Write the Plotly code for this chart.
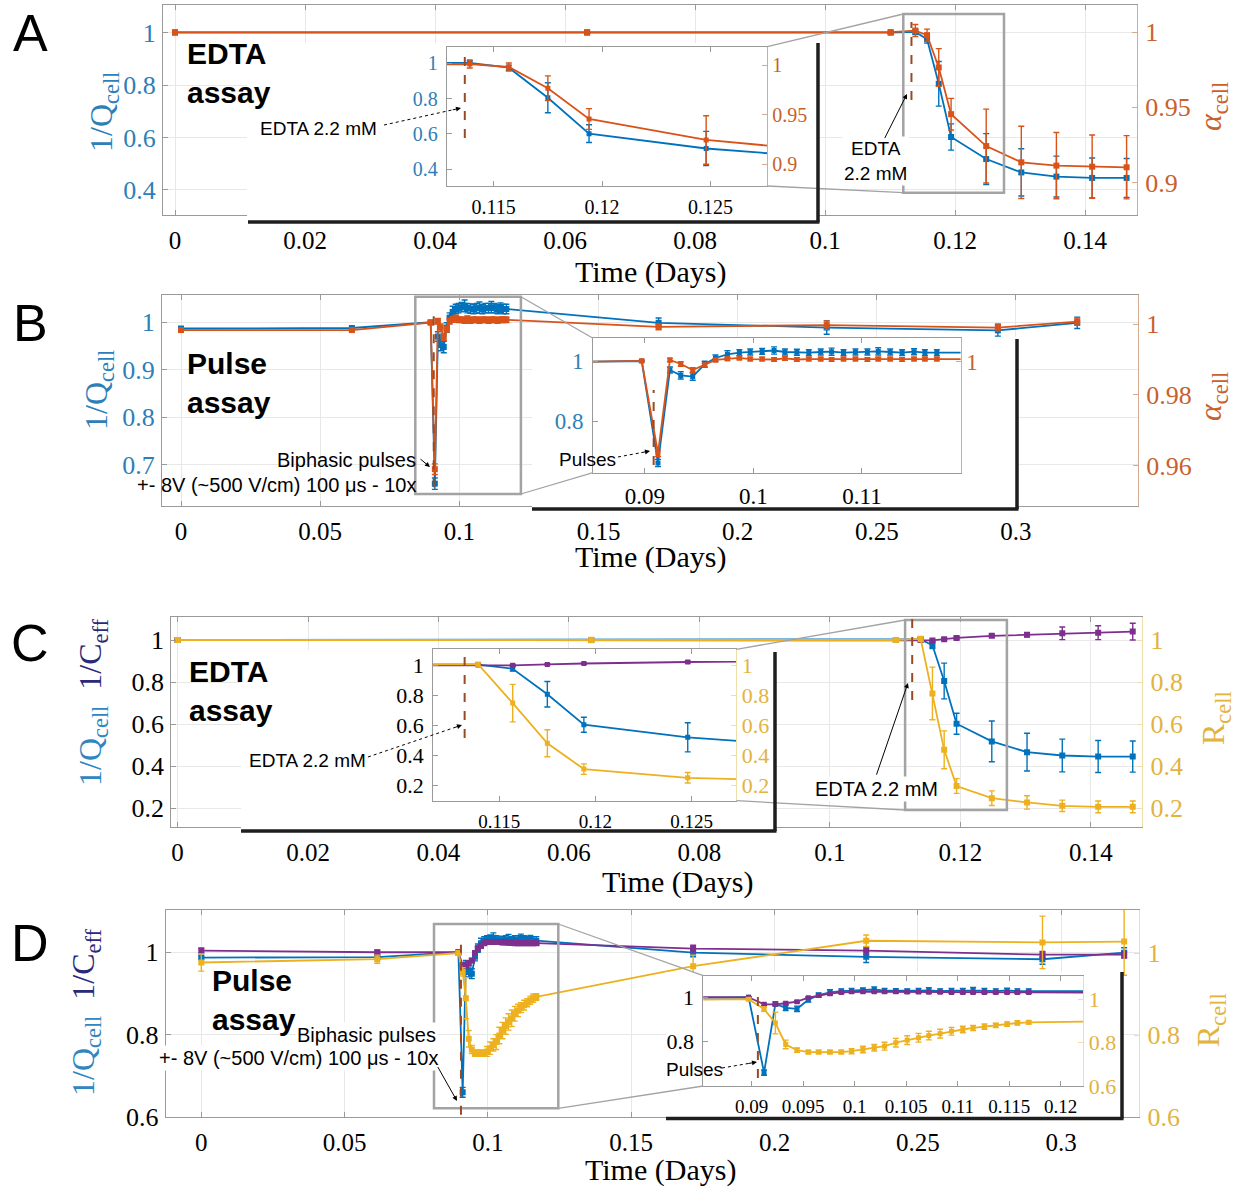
import plotly.graph_objects as go

W, H = 1255, 1187          # reference pixel space used for every position below
FIG_W, FIG_H = 1255, 1202  # page size (the photo is squeezed back to 1187 high)
SERIF = "Liberation Serif"
SANS = "Liberation Sans"

# ---------------- data ----------------
# EDTA assay (panels A and C)
T_EDTA = [0, 0.0634, 0.1101, 0.1139, 0.1157, 0.1175, 0.1194, 0.1248, 0.1302, 0.1356, 0.1411, 0.1464]
Q_EDTA = [1.0, 1.0, 1.0, 1.003, 0.975, 0.805, 0.602, 0.518, 0.467, 0.451, 0.446, 0.446]
Q_EDTA_ERR = [0.003, 0.003, 0.003, 0.01, 0.015, 0.085, 0.05, 0.097, 0.09, 0.078, 0.076, 0.074]
ALPHA_EDTA = [1.0, 1.0, 1.0, 1.001, 0.998, 0.9765, 0.9455, 0.9243, 0.9135, 0.9113, 0.9106, 0.9102]
ALPHA_EDTA_ERR = [0.0004, 0.0004, 0.0004, 0.004, 0.004, 0.0125, 0.0105, 0.0245, 0.024, 0.022, 0.021, 0.021]
C_EDTA = [1.0, 1.0, 1.0, 1.0, 0.998, 1.004, 1.01, 1.02, 1.025, 1.032, 1.035, 1.04]
C_EDTA_ERR = [0.003, 0.003, 0.003, 0.003, 0.005, 0.005, 0.006, 0.007, 0.01, 0.03, 0.033, 0.04]
R_EDTA = [1.0, 1.0, 1.0, 1.005, 0.746, 0.478, 0.306, 0.248, 0.228, 0.212, 0.207, 0.207]
R_EDTA_ERR = [0.01, 0.012, 0.006, 0.012, 0.125, 0.09, 0.035, 0.035, 0.032, 0.027, 0.028, 0.028]

# Pulse assay (panels B and D)
T_PULSE = [0, 0.0614,
           0.0897, 0.0912, 0.0923, 0.0933, 0.0944, 0.0955, 0.0965, 0.0976, 0.0987, 0.0997,
           0.1008, 0.1019, 0.1029, 0.1040, 0.1051, 0.1062, 0.1072, 0.1083, 0.1094, 0.1105,
           0.1115, 0.1126, 0.1137, 0.1148, 0.1158, 0.1169,
           0.1716, 0.2320, 0.2935, 0.3220]
Q_PULSE = [0.987, 0.988,
           1.0, 0.66, 0.97, 0.952, 0.948, 0.989, 1.01, 1.022, 1.028, 1.03,
           1.032, 1.035, 1.03, 1.029, 1.028, 1.03, 1.031, 1.028, 1.03, 1.03,
           1.032, 1.03, 1.028, 1.031, 1.028, 1.028,
           0.999, 0.989, 0.983, 0.999]
Q_PULSE_ERR = [0.004, 0.004,
               0.003, 0.012, 0.01, 0.012, 0.012, 0.01, 0.01, 0.012, 0.01, 0.01,
               0.01, 0.012, 0.01, 0.01, 0.01, 0.01, 0.012, 0.01, 0.01, 0.01,
               0.012, 0.01, 0.01, 0.01, 0.01, 0.01,
               0.01, 0.014, 0.012, 0.012]
ALPHA_PULSE = [0.9983, 0.9983,
               1.0004, 0.959, 1.0008, 0.999, 0.9963, 0.9985, 1.0008, 1.0013, 1.0017, 1.0012,
               1.0012, 1.001, 1.0015, 1.001, 1.0012, 1.0012, 1.001, 1.0012, 1.0012, 1.001,
               1.0012, 1.0012, 1.001, 1.0012, 1.0012, 1.0012,
               0.9992, 0.9997, 0.999, 1.0007]
ALPHA_PULSE_ERR = [0.0003, 0.0003,
                   0.0003, 0.0015, 0.0008, 0.001, 0.001, 0.0008, 0.0008, 0.0008, 0.0008, 0.0008,
                   0.0008, 0.0008, 0.0008, 0.0008, 0.0008, 0.0008, 0.0008, 0.0008, 0.0008, 0.0008,
                   0.0008, 0.0008, 0.0008, 0.0008, 0.0008, 0.0008,
                   0.0008, 0.0012, 0.001, 0.001]
C_PULSE = [1.004, 1.0,
           1.0, 0.968, 0.968, 0.973, 0.98, 0.998, 1.008, 1.016, 1.022, 1.025,
           1.025, 1.025, 1.025, 1.025, 1.024, 1.024, 1.023, 1.023, 1.022, 1.022,
           1.022, 1.022, 1.022, 1.022, 1.022, 1.022,
           1.009, 1.004, 0.994, 0.994]
C_PULSE_ERR = [0.006, 0.005,
               0.003, 0.005, 0.005, 0.005, 0.005, 0.005, 0.005, 0.005, 0.005, 0.005,
               0.005, 0.005, 0.005, 0.005, 0.005, 0.005, 0.005, 0.005, 0.005, 0.005,
               0.005, 0.005, 0.005, 0.005, 0.005, 0.005,
               0.008, 0.008, 0.008, 0.008]
R_PULSE = [0.977, 0.985,
           1.0, 0.954, 0.890, 0.791, 0.765, 0.756, 0.756, 0.756, 0.756, 0.760,
           0.768, 0.776, 0.783, 0.799, 0.811, 0.822, 0.832, 0.841, 0.852, 0.860,
           0.867, 0.873, 0.879, 0.885, 0.890, 0.893,
           0.968, 1.030, 1.026, 1.028]
R_PULSE_ERR = [0.021, 0.01,
               0.005, 0.01, 0.05, 0.02, 0.01, 0.008, 0.008, 0.008, 0.008, 0.012,
               0.015, 0.015, 0.018, 0.02, 0.02, 0.02, 0.02, 0.02, 0.018, 0.015,
               0.012, 0.012, 0.01, 0.01, 0.01, 0.008,
               0.027, 0.014, 0.064, 0.082]

# tick values
A_XTICKS = [0, 0.02, 0.04, 0.06, 0.08, 0.1, 0.12, 0.14]
A_YL_TICKS = [0.4, 0.6, 0.8, 1]
A_YR_TICKS = [0.9, 0.95, 1]
EDTA_IN_XTICKS = [0.115, 0.12, 0.125]
B_XTICKS = [0, 0.05, 0.1, 0.15, 0.2, 0.25, 0.3]
B_YL_TICKS = [0.7, 0.8, 0.9, 1]
B_YR_TICKS = [0.96, 0.98, 1]
B_IN_XTICKS = [0.09, 0.1, 0.11]
B_IN_YL_TICKS = [0.8, 1]
B_IN_YR_TICKS = [0.95, 1]
C_YTICKS = [0.2, 0.4, 0.6, 0.8, 1]
D_YTICKS = [0.6, 0.8, 1]
D_IN_XTICKS = [0.09, 0.095, 0.1, 0.105, 0.11, 0.115, 0.12]
D_IN_YL_TICKS = [0.8, 1]
D_IN_YR_TICKS = [0.6, 0.8, 1]

# ---------------- styles ----------------
BLUE = '#0072BD'
ORANGE = '#D95319'
YELLOW = '#EDB120'
PURPLE = '#7E2F8E'
BLUE_TXT = '#2e7fb8'
ORANGE_TXT = '#c8612c'
YELLOW_TXT = '#e2b33f'
GRID = '#e8e8e8'
AXIS = '#9a9a9a'
ORANGE_AX = '#d4aa90'
YELLOW_AX = '#eedfa8'
DASH = '#9a4a22'
RECT = '#a3a3a3'

# label offsets
SO_MX, SO_ML, SO_MR = 3, 1, 2      # main x, main left y, main right y
SO_IX, SO_IL, SO_IR = 3, 4, 0      # inset x, inset left y, inset right y


def px(x):
    return x / W


def py(y):
    return 1 - y / H


def dx(a, b):
    return [a / W, b / W]


def dy(top, bottom):
    return [1 - bottom / H, 1 - top / H]


def lab(v):
    return ['%g' % t for t in v]


def axis(domain, anchor, rng, ticks, size, color='black', linecolor=AXIS, grid=False,
         mirror=False, standoff=4, overlaying=None, side=None):
    d = dict(anchor=anchor, range=rng, tickmode='array', tickvals=ticks, ticktext=lab(ticks),
             tickfont=dict(family=SERIF, size=size, color=color), showline=True,
             linecolor=linecolor, linewidth=1, mirror=mirror, ticks='inside', ticklen=5,
             tickcolor=linecolor, tickwidth=1, showgrid=grid, gridcolor=GRID, gridwidth=1,
             zeroline=False, fixedrange=True, ticklabelstandoff=standoff)
    if overlaying:
        d['overlaying'] = overlaying
    else:
        d['domain'] = domain
    if side:
        d['side'] = side
    return d


def box_axis(domain, anchor):
    return dict(domain=domain, anchor=anchor, visible=False, range=[0, 1], fixedrange=True)


def series(x, y, err, color, xa, ya, size=6, width=1.8):
    return go.Scatter(x=x, y=y, xaxis=xa, yaxis=ya, mode='lines+markers',
                      line=dict(color=color, width=width),
                      marker=dict(symbol='square', size=size, color=color),
                      error_y=dict(type='data', array=err, visible=True, color=color,
                                   thickness=1.4, width=3),
                      showlegend=False, hoverinfo='skip')


def empty(xa, ya):
    return go.Scatter(x=[], y=[], xaxis=xa, yaxis=ya, showlegend=False, hoverinfo='skip')


traces = []
# Panel A
traces += [series(T_EDTA, Q_EDTA, Q_EDTA_ERR, BLUE, 'x', 'y'),
           series(T_EDTA, ALPHA_EDTA, ALPHA_EDTA_ERR, ORANGE, 'x', 'y2'),
           empty('x2', 'y3'),
           series(T_EDTA, Q_EDTA, Q_EDTA_ERR, BLUE, 'x3', 'y4', size=5),
           series(T_EDTA, ALPHA_EDTA, ALPHA_EDTA_ERR, ORANGE, 'x3', 'y5', size=5)]
# Panel B
traces += [series(T_PULSE, Q_PULSE, Q_PULSE_ERR, BLUE, 'x4', 'y6'),
           series(T_PULSE, ALPHA_PULSE, ALPHA_PULSE_ERR, ORANGE, 'x4', 'y7'),
           empty('x5', 'y8'),
           series(T_PULSE, Q_PULSE, Q_PULSE_ERR, BLUE, 'x6', 'y9', size=5),
           series(T_PULSE, ALPHA_PULSE, ALPHA_PULSE_ERR, ORANGE, 'x6', 'y10', size=5)]
# Panel C
traces += [series(T_EDTA, Q_EDTA, Q_EDTA_ERR, BLUE, 'x7', 'y11'),
           series(T_EDTA, C_EDTA, C_EDTA_ERR, PURPLE, 'x7', 'y11'),
           series(T_EDTA, R_EDTA, R_EDTA_ERR, YELLOW, 'x7', 'y12'),
           empty('x8', 'y13'),
           series(T_EDTA, Q_EDTA, Q_EDTA_ERR, BLUE, 'x9', 'y14', size=5),
           series(T_EDTA, C_EDTA, C_EDTA_ERR, PURPLE, 'x9', 'y14', size=5),
           series(T_EDTA, R_EDTA, R_EDTA_ERR, YELLOW, 'x9', 'y15', size=5)]
# Panel D
traces += [series(T_PULSE, Q_PULSE, Q_PULSE_ERR, BLUE, 'x10', 'y16'),
           series(T_PULSE, C_PULSE, C_PULSE_ERR, PURPLE, 'x10', 'y16'),
           series(T_PULSE, R_PULSE, R_PULSE_ERR, YELLOW, 'x10', 'y17'),
           empty('x11', 'y18'),
           series(T_PULSE, Q_PULSE, Q_PULSE_ERR, BLUE, 'x12', 'y19', size=5),
           series(T_PULSE, C_PULSE, C_PULSE_ERR, PURPLE, 'x12', 'y19', size=5),
           series(T_PULSE, R_PULSE, R_PULSE_ERR, YELLOW, 'x12', 'y20', size=5)]

fig = go.Figure(data=traces)

MX, MY, IX, IY = 25, 26, 20, 20
layout_axes = dict(
    # ---- A ----
    xaxis=axis(dx(163, 1137), 'y', [-0.00185, 0.148], A_XTICKS, MX, grid=True, mirror='ticks', standoff=SO_MX),
    yaxis=axis(dy(5, 215), 'x', [0.3046, 1.1055], A_YL_TICKS, MY, color=BLUE_TXT, grid=True, standoff=SO_ML),
    yaxis2=axis(None, 'x', [0.8785, 1.018], A_YR_TICKS, MY, color=ORANGE_TXT, linecolor=ORANGE_AX,
                overlaying='y', side='right', standoff=SO_MR),
    xaxis2=box_axis(dx(247, 818), 'y3'),
    yaxis3=box_axis(dy(43, 222), 'x2'),
    xaxis3=axis(dx(446.8, 767.3), 'y4', [0.11284, 0.12762], EDTA_IN_XTICKS, IX, mirror='ticks', standoff=SO_IX),
    yaxis4=axis(dy(46.7, 186), 'x3', [0.3057, 1.094], A_YL_TICKS, IY, color=BLUE_TXT, standoff=SO_IL),
    yaxis5=axis(None, 'x3', [0.8778, 1.0185], A_YR_TICKS, IY, color=ORANGE_TXT, linecolor=ORANGE_AX,
                overlaying='y4', side='right', standoff=SO_IR),
    # ---- B ----
    xaxis4=axis(dx(162, 1138), 'y6', [-0.00683, 0.34384], B_XTICKS, MX, grid=True, mirror='ticks', standoff=SO_MX),
    yaxis6=axis(dy(295, 506), 'x4', [0.6129, 1.0576], B_YL_TICKS, MY, color=BLUE_TXT, grid=True, standoff=SO_ML),
    yaxis7=axis(None, 'x4', [0.9486, 1.0082], B_YR_TICKS, MY, color=ORANGE_TXT, linecolor=ORANGE_AX,
                overlaying='y6', side='right', standoff=SO_MR),
    xaxis5=box_axis(dx(532, 1017), 'y8'),
    yaxis8=box_axis(dy(337, 509), 'x5'),
    xaxis6=axis(dx(593, 960.6), 'y9', [0.08521, 0.11909], B_IN_XTICKS, 23, mirror='ticks', standoff=SO_IX),
    yaxis9=axis(dy(338.3, 472.7), 'x6', [0.6277, 1.0757], B_IN_YL_TICKS, 23, color=BLUE_TXT, standoff=SO_IL),
    yaxis10=axis(None, 'x6', [0.9503, 1.0105], B_IN_YR_TICKS, 23, color=ORANGE_TXT, linecolor=ORANGE_AX,
                 overlaying='y9', side='right', standoff=SO_IR),
    # ---- C ----
    xaxis7=axis(dx(171.3, 1142.2), 'y11', [-0.00095, 0.14785], A_XTICKS, MX, grid=True, mirror='ticks', standoff=SO_MX),
    yaxis11=axis(dy(617.3, 827.3), 'x7', [0.1097, 1.108], C_YTICKS, MY, grid=True, standoff=SO_ML),
    yaxis12=axis(None, 'x7', [0.1097, 1.108], C_YTICKS, MY, color=YELLOW_TXT, linecolor=YELLOW_AX,
                 overlaying='y11', side='right', standoff=SO_MR),
    xaxis8=box_axis(dx(241, 775), 'y13'),
    yaxis13=box_axis(dy(650, 831), 'x8'),
    xaxis9=axis(dx(433.1, 736.4), 'y14', [0.11156, 0.12733], EDTA_IN_XTICKS, 19, mirror='ticks', standoff=SO_IX),
    yaxis14=axis(dy(649.3, 800.7), 'x9', [0.0953, 1.1047], C_YTICKS, 22, standoff=SO_IL),
    yaxis15=axis(None, 'x9', [0.0953, 1.1047], C_YTICKS, 22, color=YELLOW_TXT, linecolor=YELLOW_AX,
                 overlaying='y14', side='right', standoff=SO_IR),
    # ---- D ----
    xaxis10=axis(dx(165.7, 1139.4), 'y16', [-0.01242, 0.32732], B_XTICKS, MX, grid=True, mirror='ticks', standoff=SO_MX),
    yaxis16=axis(dy(910, 1117.3), 'x10', [0.5995, 1.1025], D_YTICKS, MY, grid=True, standoff=SO_ML),
    yaxis17=axis(None, 'x10', [0.5995, 1.105], D_YTICKS, MY, color=YELLOW_TXT, linecolor=YELLOW_AX,
                 overlaying='y16', side='right', standoff=SO_MR),
    xaxis11=box_axis(dx(666, 1122), 'y18'),
    yaxis18=box_axis(dy(972, 1119), 'x11'),
    xaxis12=axis(dx(703.3, 1083.3), 'y19', [0.0853, 0.1222], D_IN_XTICKS, 19, mirror='ticks', standoff=SO_IX),
    yaxis19=axis(dy(975.7, 1086), 'x12', [0.5995, 1.0974], D_IN_YL_TICKS, 22, standoff=SO_IL),
    yaxis20=axis(None, 'x12', [0.5995, 1.108], D_IN_YR_TICKS, 22, color=YELLOW_TXT, linecolor=YELLOW_AX,
                 overlaying='y19', side='right', standoff=SO_IR),
)

shapes = []
annotations = []


def pline(x0, y0, x1, y1, color, width, dash='solid'):
    return dict(type='line', xref='paper', yref='paper', x0=px(x0), y0=py(y0), x1=px(x1), y1=py(y1),
                line=dict(color=color, width=width, dash=dash), layer='above')


def prect(x0, y0, x1, y1):
    return dict(type='rect', xref='paper', yref='paper', x0=px(x0), y0=py(y0), x1=px(x1), y1=py(y1),
                line=dict(color=RECT, width=2.5), fillcolor='rgba(0,0,0,0)', layer='above')


def vdash(xref, yref, x, y0, y1):
    return dict(type='line', xref=xref, yref=yref, x0=x, x1=x, y0=y0, y1=y1,
                line=dict(color=DASH, width=2, dash='dash'), layer='above')


def txt(x, y, text, size, color='black', family=SANS, xanchor='center', angle=0, align='center', bg=None):
    d = dict(x=px(x), y=py(y), xref='paper', yref='paper', text=text, showarrow=False,
             font=dict(family=family, size=size, color=color), xanchor=xanchor, yanchor='middle',
             textangle=angle, align=align)
    if bg:
        d['bgcolor'] = bg
    return d


YS = FIG_H / H


def arrow(tail, tip, dotted=False):
    tx, ty = tail
    hx, hy = tip
    if dotted:
        ddx, ddy = hx - tx, hy - ty
        L = (ddx * ddx + ddy * ddy) ** 0.5
        ux, uy = ddx / L, ddy / L
        shapes.append(pline(tx, ty, hx - 8 * ux, hy - 8 * uy, 'black', 1, 'dot'))
        annotations.append(dict(x=px(hx), y=py(hy), xref='paper', yref='paper', ax=-10 * ux, ay=-10 * uy * YS,
                                text='', showarrow=True, arrowhead=2, arrowsize=1, arrowwidth=1,
                                arrowcolor='black', standoff=0))
    else:
        annotations.append(dict(x=px(hx), y=py(hy), xref='paper', yref='paper', ax=tx - hx, ay=(ty - hy) * YS,
                                text='', showarrow=True, arrowhead=2, arrowsize=1, arrowwidth=1,
                                arrowcolor='black', standoff=0))


# zoom rectangles and connecting lines
shapes += [prect(903.3, 14, 1004, 192.7),
           pline(767.3, 46.7, 903.3, 14, RECT, 1.3), pline(767.3, 186, 903.3, 192.7, RECT, 1.3),
           prect(415.3, 296.7, 520.9, 494),
           pline(520.9, 296.7, 593, 338.3, RECT, 1.3), pline(520.9, 494, 593, 472.7, RECT, 1.3),
           prect(905.1, 620, 1006.9, 810),
           pline(736.4, 649.3, 905.1, 620, RECT, 1.3), pline(736.4, 800.7, 905.1, 810, RECT, 1.3),
           prect(434, 924, 558.3, 1108.3),
           pline(558.3, 924, 703.3, 975.7, RECT, 1.3), pline(558.3, 1108.3, 703.3, 1086, RECT, 1.3)]
# inset box shadows
SH = '#1e1e1e'
shapes += [pline(248, 222, 819.5, 222, SH, 3.5), pline(818, 43, 818, 222, SH, 3.5),
           pline(532, 509, 1018.5, 509, SH, 3.5), pline(1017, 339, 1017, 509, SH, 3.5),
           pline(241, 831, 776.5, 831, SH, 3.5), pline(775, 652, 775, 831, SH, 3.5),
           pline(666, 1118.5, 1123.5, 1118.5, SH, 3.5), pline(1122, 972, 1122, 1118.5, SH, 3.5)]
# treatment markers (dashed)
shapes += [vdash('x', 'y', 0.1133, 0.743, 1.041),
           vdash('x3', 'y4', 0.11367, 0.577, 1.064),
           vdash('x4', 'y6', 0.0908, 0.6525, 1.0196),
           vdash('x6', 'y9', 0.0908, 0.653, 0.903),
           vdash('x7', 'y11', 0.1126, 0.715, 1.105),
           vdash('x9', 'y14', 0.1132, 0.513, 1.067),
           vdash('x10', 'y16', 0.0906, 0.6056, 1.018),
           vdash('x12', 'y19', 0.0906, 0.636, 1.019)]

# ---------------- texts ----------------
QC_TITLE = ('<span style="color:#2f86c0">1/Q<sub>cell</sub></span>  '
            '<span style="color:#2b2a78">1/C<sub>eff</sub></span>')
annotations += [
    # A
    txt(30, 33, 'A', 52),
    txt(185, 73, '<b>EDTA<br>assay</b>', 30, xanchor='left', align='left'),
    txt(103, 112, '1/Q<sub>cell</sub>', 32, color=BLUE_TXT, family=SERIF, angle=-90),
    txt(1212, 107, '<i>α</i><sub>cell</sub>', 32, color=ORANGE_TXT, family=SERIF, angle=-90),
    txt(650, 272, 'Time (Days)', 30, family=SERIF),
    txt(318, 128, 'EDTA 2.2 mM', 19),
    txt(875, 161, 'EDTA<br>2.2 mM', 19, bg='white'),
    # B
    txt(30, 323, 'B', 52),
    txt(185, 383, '<b>Pulse<br>assay</b>', 30, xanchor='left', align='left'),
    txt(98, 390, '1/Q<sub>cell</sub>', 32, color=BLUE_TXT, family=SERIF, angle=-90),
    txt(1212, 397, '<i>α</i><sub>cell</sub>', 32, color=ORANGE_TXT, family=SERIF, angle=-90),
    txt(650, 557, 'Time (Days)', 30, family=SERIF),
    txt(418, 460, 'Biphasic pulses', 20, xanchor='right'),
    txt(418, 485, '+- 8V (~500 V/cm) 100 μs - 10x', 20, xanchor='right'),
    txt(587, 459, 'Pulses', 19),
    # C
    txt(30, 643, 'C', 52),
    txt(187, 691, '<b>EDTA<br>assay</b>', 30, xanchor='left', align='left'),
    txt(92, 702, QC_TITLE, 32, family=SERIF, angle=-90),
    txt(1215, 718, 'R<sub>cell</sub>', 32, color=YELLOW_TXT, family=SERIF, angle=-90),
    txt(677, 882, 'Time (Days)', 30, family=SERIF),
    txt(307, 760, 'EDTA 2.2 mM', 19),
    txt(876, 789, 'EDTA 2.2 mM', 20, bg='white'),
    # D
    txt(30, 943, 'D', 52),
    txt(210, 1000, '<b>Pulse<br>assay</b>', 30, xanchor='left', align='left'),
    txt(438, 1035, 'Biphasic pulses', 20, xanchor='right', bg='white'),
    txt(440, 1058, '+- 8V (~500 V/cm) 100 μs - 10x', 20, xanchor='right', bg='white'),
    txt(86, 1012, QC_TITLE, 32, family=SERIF, angle=-90),
    txt(1210, 1020, 'R<sub>cell</sub>', 32, color=YELLOW_TXT, family=SERIF, angle=-90),
    txt(660, 1170, 'Time (Days)', 30, family=SERIF),
    txt(694, 1069, 'Pulses', 19),
]

arrow((384, 125), (461, 108), dotted=True)
arrow((884, 139), (907, 94))
arrow((419, 458), (430, 467))
arrow((618, 457), (650, 451), dotted=True)
arrow((368, 757), (462, 725), dotted=True)
arrow((876, 775), (908, 683))
arrow((437, 1066), (457, 1101))
arrow((722, 1068), (757, 1062), dotted=True)

fig.update_layout(width=FIG_W, height=FIG_H, autosize=False, margin=dict(l=0, r=0, t=0, b=0, pad=0),
                  font=dict(family=SERIF, color='black'),
                  paper_bgcolor='white', plot_bgcolor='white', showlegend=False,
                  shapes=shapes, annotations=annotations, **layout_axes)

PAGE_FIX = ("var s='margin:0;padding:0;width:%dpx;height:%dpx;overflow:hidden';"
            "document.documentElement.style.cssText=s;document.body.style.cssText=s;") % (FIG_W, FIG_H)
fig.write_html("out.html", config={'displayModeBar': False}, post_script=PAGE_FIX)
